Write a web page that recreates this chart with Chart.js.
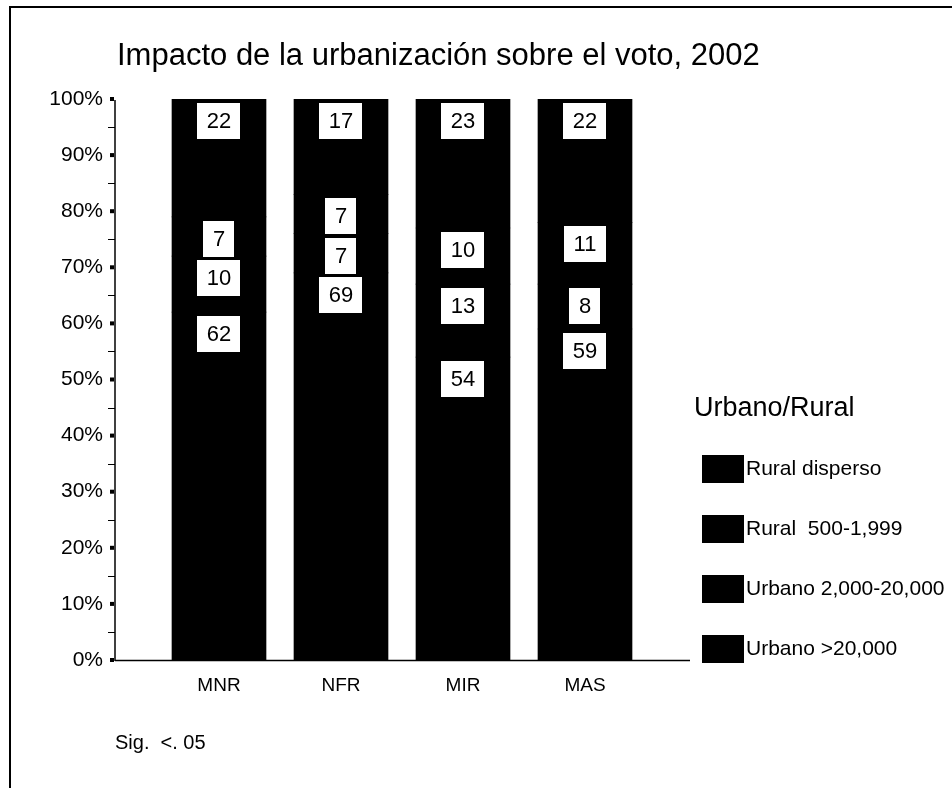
<!DOCTYPE html>
<html>
<head>
<meta charset="utf-8">
<script src="https://cdn.jsdelivr.net/npm/chart.js@4/dist/chart.umd.min.js"></script>
<style>
  html, body { margin: 0; padding: 0; background: #fff; }
  #wrap { width: 952px; height: 788px; position: relative; }
</style>
</head>
<body>
<div id="wrap"><canvas id="chart" width="952" height="788"></canvas></div>
<script>
// --- Daten ---
const partidos = ['MNR', 'NFR', 'MIR', 'MAS'];
const urbanoMas20000 = [62, 69, 54, 59];
const urbano2000a20000 = [10, 7, 13, 8];
const rural500a1999 = [7, 7, 10, 11];
const ruralDisperso = [22, 17, 23, 22];
const serieNombres = ['Urbano >20,000', 'Urbano 2,000-20,000', 'Rural  500-1,999', 'Rural disperso'];
const yTicks = [0, 10, 20, 30, 40, 50, 60, 70, 80, 90, 100];

const FONT = '"Liberation Sans", Arial, sans-serif';

// Rahmen, Achsen, Titel, Legende, Fußnote
const decoPlugin = {
  id: 'deco',
  beforeDraw(chart) {
    const ctx = chart.ctx;
    ctx.save();
    ctx.fillStyle = '#fff';
    ctx.fillRect(0, 0, chart.width, chart.height);
    // Rahmen
    ctx.strokeStyle = '#000';
    ctx.lineWidth = 2;
    ctx.beginPath();
    ctx.moveTo(10, 800);
    ctx.lineTo(10, 7);
    ctx.lineTo(960, 7);
    ctx.stroke();
    ctx.restore();
  },
  afterDraw(chart) {
    const ctx = chart.ctx;
    const y = chart.scales.y;
    const axisX = 115;
    ctx.save();
    ctx.fillStyle = '#000';
    ctx.strokeStyle = '#000';
    // y-Achse
    ctx.lineWidth = 1.5;
    ctx.beginPath();
    ctx.moveTo(axisX, y.getPixelForValue(100) + 1);
    ctx.lineTo(axisX, y.getPixelForValue(0) + 1);
    ctx.stroke();
    // Grundlinie
    ctx.beginPath();
    ctx.moveTo(axisX, y.getPixelForValue(0) + 0.5);
    ctx.lineTo(690, y.getPixelForValue(0) + 0.5);
    ctx.stroke();
    // Teilstriche
    yTicks.forEach(v => {
      const py = y.getPixelForValue(v);
      ctx.fillRect(axisX - 5, py - 2, 4, 4);
      if (v < 100) {
        const pm = y.getPixelForValue(v + 5);
        ctx.fillRect(axisX - 7, Math.round(pm), 7, 1);
      }
    });
    // Titel
    ctx.font = '31px ' + FONT;
    ctx.textBaseline = 'middle';
    ctx.textAlign = 'left';
    ctx.fillText('Impacto de la urbanización sobre el voto, 2002', 117, 56);
    // Legende
    ctx.font = '27px ' + FONT;
    ctx.fillText('Urbano/Rural', 694, 409);
    ctx.font = '21px ' + FONT;
    const ds = chart.data.datasets.slice().reverse();
    ds.forEach((d, i) => {
      const cy = 469 + i * 60;
      ctx.fillStyle = d.backgroundColor;
      ctx.fillRect(702, cy - 14, 42, 28);
      ctx.fillStyle = '#000';
      ctx.fillText(d.label, 746, cy);
    });
    // Fußnote
    ctx.font = '20px ' + FONT;
    ctx.fillText('Sig.  <. 05', 115, 743);
    ctx.restore();
  }
};

// Wertekästchen oben in jedem Segment
const boxPlugin = {
  id: 'boxes',
  afterDatasetsDraw(chart) {
    const ctx = chart.ctx;
    const top = chart.chartArea.top;
    ctx.save();
    ctx.font = '22px ' + FONT;
    ctx.textAlign = 'center';
    ctx.textBaseline = 'middle';
    chart.data.datasets.forEach((d, di) => {
      const meta = chart.getDatasetMeta(di);
      meta.data.forEach((el, i) => {
        const txt = String(d.data[i]);
        const w = ctx.measureText(txt).width + 19;
        const h = 36;
        const by = Math.max(el.y, top) + 4;
        ctx.fillStyle = '#fff';
        ctx.fillRect(Math.round(el.x - w / 2), Math.round(by), Math.round(w), h);
        ctx.fillStyle = '#000';
        ctx.fillText(txt, el.x, by + h / 2 + 1);
      });
    });
    ctx.restore();
  }
};

const seriesData = [urbanoMas20000, urbano2000a20000, rural500a1999, ruralDisperso];

new Chart(document.getElementById('chart').getContext('2d'), {
  type: 'bar',
  data: {
    labels: partidos,
    datasets: seriesData.map((vals, i) => ({
      label: serieNombres[i],
      data: vals,
      backgroundColor: '#000',
      borderWidth: 0,
      barThickness: 94
    }))
  },
  options: {
    responsive: false,
    animation: false,
    events: [],
    layout: { padding: { top: 99, right: 306, left: 0, bottom: 0 } },
    plugins: { legend: { display: false }, title: { display: false }, tooltip: { enabled: false } },
    scales: {
      x: {
        stacked: true,
        grid: { display: false, drawTicks: false },
        border: { display: false },
        ticks: { color: '#000', font: { family: FONT, size: 19 }, padding: 14 },
        afterFit: s => { s.height = 128; }
      },
      y: {
        stacked: true,
        min: 0,
        max: 100,
        grid: { display: false, drawTicks: false },
        border: { display: false },
        ticks: {
          stepSize: 10,
          color: '#000',
          font: { family: FONT, size: 21 },
          padding: 55,
          callback: v => v + '%'
        },
        afterFit: s => { s.width = 158; }
      }
    }
  },
  plugins: [decoPlugin, boxPlugin]
});
</script>
</body>
</html>
